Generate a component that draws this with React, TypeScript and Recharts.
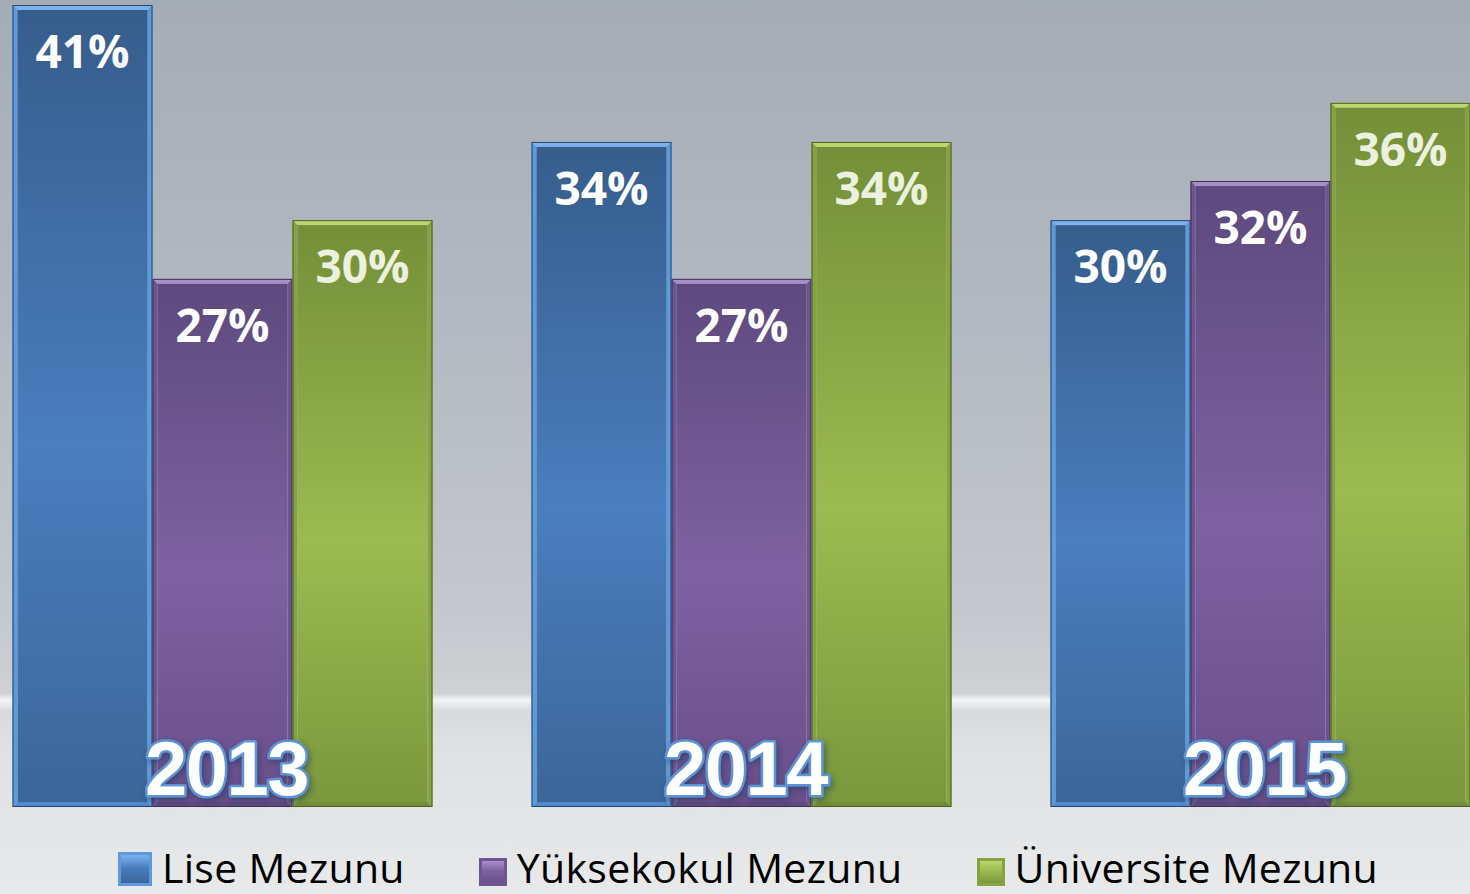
import { BarChart, Bar, XAxis, YAxis, LabelList } from 'recharts';

const years = ['2013', '2014', '2015'];
const liseValues = [41, 34, 30];
const yuksekokulValues = [27, 27, 32];
const universiteValues = [30, 34, 36];
const seriesNames = ['Lise Mezunu', 'Yüksekokul Mezunu', 'Üniversite Mezunu'];

const data = years.map((year, i) => ({
  year,
  lise: liseValues[i],
  yuksekokul: yuksekokulValues[i],
  universite: universiteValues[i],
}));

// look of each series: body gradient, bevel edges, label colour
const THEMES = {
  lise: {
    grad: ['#365d8c', '#4a7ebe', '#3c6699'],
    top: '#7eb2ee', side: '#5c9ade', bottom: '#4f8bd0', edge: '#25456c',
    label: '#ffffff', swatch: 34,
  },
  yuksekokul: {
    grad: ['#5d4a7e', '#7e61a1', '#6a4f8b'],
    top: '#a690c8', side: '#6e5592', bottom: '#5f4980', edge: '#3e2f55',
    label: '#ffffff', swatch: 28,
  },
  universite: {
    grad: ['#748f38', '#9bbb51', '#7a983c'],
    top: '#bcd670', side: '#86a243', bottom: '#728d35', edge: '#4b5e22',
    label: '#ebf1de', swatch: 28,
  },
};

type ThemeKey = keyof typeof THEMES;
const keys: ThemeKey[] = ['lise', 'yuksekokul', 'universite'];

const BevelBar = (props: any) => {
  const { x, y, width: w, height: h, themeKey } = props;
  const t = THEMES[themeKey as ThemeKey];
  const b = 5;
  if (!h || h <= 0) return null;
  return (
    <g>
      <polygon points={`${x},${y} ${x + w},${y} ${x + w - b},${y + b} ${x + b},${y + b}`} fill={t.top} />
      <polygon points={`${x},${y} ${x + b},${y + b} ${x + b},${y + h - b} ${x},${y + h}`} fill={t.side} />
      <polygon points={`${x + w},${y} ${x + w},${y + h} ${x + w - b},${y + h - b} ${x + w - b},${y + b}`} fill={t.side} />
      <polygon points={`${x},${y + h} ${x + b},${y + h - b} ${x + w - b},${y + h - b} ${x + w},${y + h}`} fill={t.bottom} />
      <rect x={x + b} y={y + b} width={w - 2 * b} height={h - 2 * b} fill={`url(#grad-${themeKey})`} />
      <rect x={x + 0.5} y={y + 0.5} width={w - 1} height={h - 1} fill="none" stroke={t.edge} strokeWidth={1} />
    </g>
  );
};

const makeLabel = (key: ThemeKey) => (props: any) => {
  const { x, y, width, value } = props;
  return (
    <text
      x={x + width / 2}
      y={y + 63}
      textAnchor="middle"
      fill={THEMES[key].label}
      fontFamily="'Open Sans', sans-serif"
      fontWeight={700}
      fontSize={46}
    >
      {`${value}%`}
    </text>
  );
};

const YearTick = (props: any) => {
  const { x, y, payload } = props;
  return (
    <text
      x={x + 4}
      y={y - 12}
      textAnchor="middle"
      fill="#ffffff"
      stroke="#5b94d6"
      strokeWidth={5}
      strokeLinejoin="round"
      paintOrder="stroke"
      fontFamily="'Liberation Sans', Arial, sans-serif"
      fontWeight={700}
      fontSize={76}
      letterSpacing={-1.5}
      filter="url(#yearShadow)"
    >
      {payload.value}
    </text>
  );
};

export default function App() {
  return (
    <div
      style={{
        position: 'relative',
        width: 1470,
        height: 894,
        overflow: 'hidden',
        background:
          'linear-gradient(to bottom, #a4acb5 0%, #b5bbc2 40%, #c6c9ce 70%, #cfd1d4 77.6%, #f3f4f5 78.3%, #d9dadd 79.5%, #e0e1e3 84%, #e8e9eb 100%)',
      }}
    >
      <style>{'body{margin:0}'}</style>
      <div style={{ position: 'absolute', left: -37.5, top: 0 }}>
        <BarChart
          width={1557}
          height={894}
          data={data}
          margin={{ top: 5, right: 0, bottom: 0, left: 0 }}
          barCategoryGap={49.5}
          barGap={0}
        >
          <defs>
            {keys.map((k) => (
              <linearGradient key={k} id={`grad-${k}`} x1="0" y1="0" x2="0" y2="1">
                <stop offset="0%" stopColor={THEMES[k].grad[0]} />
                <stop offset="55%" stopColor={THEMES[k].grad[1]} />
                <stop offset="100%" stopColor={THEMES[k].grad[2]} />
              </linearGradient>
            ))}
            <filter id="yearShadow" x="-20%" y="-30%" width="140%" height="170%">
              <feGaussianBlur in="SourceAlpha" stdDeviation="3" result="blur" />
              <feOffset in="blur" dx="2" dy="3" result="off" />
              <feFlood floodColor="#1d3557" floodOpacity="0.55" />
              <feComposite in2="off" operator="in" />
              <feMerge>
                <feMergeNode />
                <feMergeNode in="SourceGraphic" />
              </feMerge>
            </filter>
          </defs>
          <YAxis hide domain={[0, 41]} />
          <XAxis
            dataKey="year"
            height={87}
            axisLine={false}
            tickLine={false}
            tickSize={0}
            tickMargin={0}
            tick={<YearTick />}
          />
          {keys.map((k, i) => (
            <Bar
              key={k}
              dataKey={k}
              name={seriesNames[i]}
              isAnimationActive={false}
              shape={(p: any) => <BevelBar {...p} themeKey={k} />}
            >
              <LabelList dataKey={k} content={makeLabel(k)} />
            </Bar>
          ))}
        </BarChart>
      </div>
      <div
        style={{
          position: 'absolute',
          top: 847,
          left: 0,
          width: 1470,
          paddingLeft: 26,
          boxSizing: 'border-box',
          display: 'flex',
          justifyContent: 'center',
          alignItems: 'flex-start',
          gap: 74,
          fontFamily: "'Open Sans', sans-serif",
          fontSize: 41,
          letterSpacing: 0.3,
          color: '#000',
        }}
      >
        {keys.map((k, i) => (
          <div key={k} style={{ display: 'flex', alignItems: 'flex-start', gap: 10, height: 40, lineHeight: '40px' }}>
            <span
              style={{
                display: 'inline-block',
                width: THEMES[k].swatch,
                height: THEMES[k].swatch,
                background: `linear-gradient(to bottom, ${THEMES[k].top}, ${THEMES[k].grad[1]} 45%, ${THEMES[k].grad[2]})`,
                border: `3px solid ${THEMES[k].side}`,
                boxSizing: 'border-box',
                marginTop: 40 - THEMES[k].swatch - 1,
              }}
            />
            <span>{seriesNames[i]}</span>
          </div>
        ))}
      </div>
    </div>
  );
}
